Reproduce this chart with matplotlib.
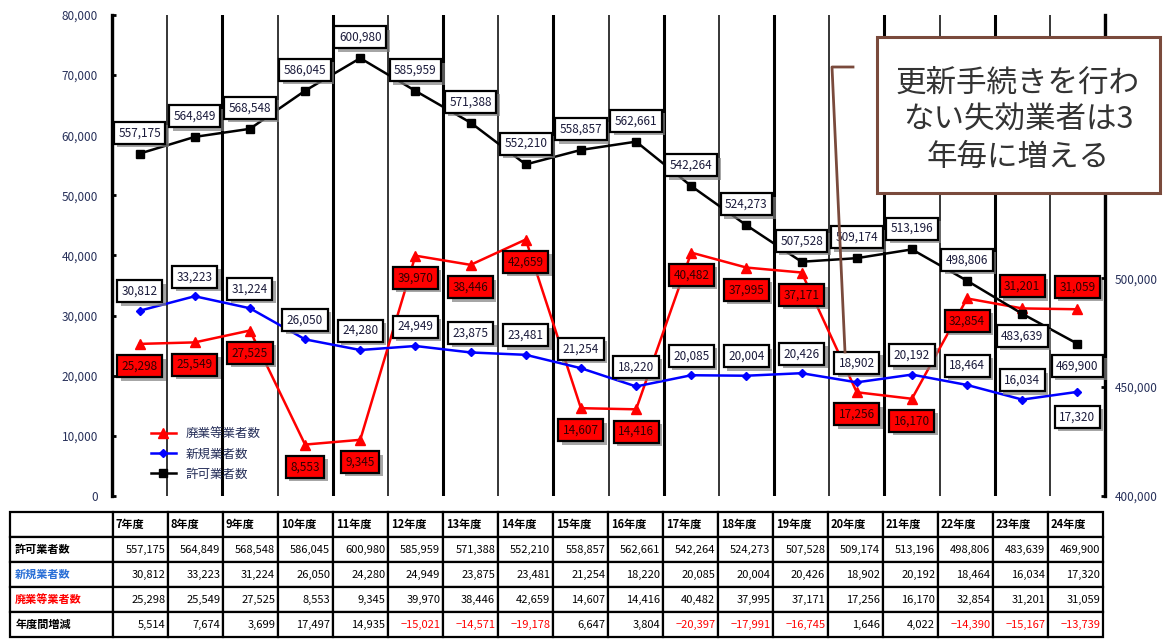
import matplotlib
matplotlib.use('Agg')
import matplotlib.pyplot as plt
import matplotlib.patheffects as pe
import numpy as np
from matplotlib.lines import Line2D
from matplotlib.patches import Rectangle
from matplotlib.ticker import FuncFormatter

plt.rcParams['font.family'] = ['Noto Sans CJK JP', 'DejaVu Sans']

# data (平成7年度〜24年度)
years = ['7年度', '8年度', '9年度', '10年度', '11年度', '12年度', '13年度', '14年度', '15年度',
         '16年度', '17年度', '18年度', '19年度', '20年度', '21年度', '22年度', '23年度', '24年度']
kyoka = [557175, 564849, 568548, 586045, 600980, 585959, 571388, 552210, 558857,
         562661, 542264, 524273, 507528, 509174, 513196, 498806, 483639, 469900]
shinki = [30812, 33223, 31224, 26050, 24280, 24949, 23875, 23481, 21254,
          18220, 20085, 20004, 20426, 18902, 20192, 18464, 16034, 17320]
haigyo = [25298, 25549, 27525, 8553, 9345, 39970, 38446, 42659, 14607,
          14416, 40482, 37995, 37171, 17256, 16170, 32854, 31201, 31059]
zougen = [5514, 7674, 3699, 17497, 14935, -15021, -14571, -19178, 6647,
          3804, -20397, -17991, -16745, 1646, 4022, -14390, -15167, -13739]

W, H = 1168, 642
NAVY = '#27305a'
BROWN = '#7a4a3c'


def fx(px):
    return px / W


def fy(py):
    return 1 - py / H


fig = plt.figure(figsize=(W / 100, H / 100), dpi=100)
ax = fig.add_axes([fx(112), fy(496), fx(1105) - fx(112), fy(15) - fy(496)])
ax2 = ax.twinx()

x = np.arange(len(years))
ax.set_xlim(-0.5, len(years) - 0.5)
ax.set_ylim(0, 80000)
ax2.set_ylim(400000, 620800)
ax.set_xticks([])
ax.set_yticks(np.arange(0, 80001, 10000))
# 550,000 / 600,000 sit under the callout box in the original
ax2.set_yticks([400000, 450000, 500000])
comma = FuncFormatter(lambda v, p: f'{v:,.0f}')
ax.yaxis.set_major_formatter(comma)
ax2.yaxis.set_major_formatter(comma)

for s in ['top', 'bottom', 'right']:
    ax.spines[s].set_visible(False)
for s in ['top', 'bottom', 'left']:
    ax2.spines[s].set_visible(False)
ax.spines['left'].set_linewidth(2.4)
ax2.spines['right'].set_linewidth(2.4)
ax.tick_params(axis='y', direction='in', length=3, width=2, labelsize=8.5,
               labelcolor=NAVY, pad=10)
ax2.tick_params(axis='y', direction='in', length=3, width=2, labelsize=8.5,
                labelcolor=NAVY, pad=7)

# column separators
for i, b in enumerate(np.arange(-0.5, len(years))):
    ax.axvline(b, color='black', lw=2.2 if i % 2 == 0 else 1.1, zorder=1)

l_red, = ax.plot(x, haigyo, color='red', marker='^', ms=6.5, lw=1.8, zorder=3)
l_blue, = ax.plot(x, shinki, color='blue', marker='D', ms=4.5, lw=1.8, zorder=3)
l_black, = ax2.plot(x, kyoka, color='black', marker='s', ms=5.5, lw=1.8, zorder=3)


def add_labels(axis, vals, offs, fc, tc):
    for xi, v, o in zip(x, vals, offs):
        t = axis.annotate(f'{v:,}', (xi, v), xytext=(0, o), textcoords='offset points',
                          ha='center', va='center', fontsize=8.5, color=tc, zorder=6,
                          bbox=dict(boxstyle='square,pad=0.38', fc=fc, ec='black', lw=1.6))
        t.get_bbox_patch().set_path_effects(
            [pe.SimplePatchShadow(offset=(2.5, -2.5), shadow_rgbFace='0.5', alpha=0.7),
             pe.Normal()])


n = len(years)
add_labels(ax2, kyoka, [15 if i < n - 2 else -16 for i in range(n)], 'white', '#1a1a3a')
add_labels(ax, shinki, [14 if i < n - 1 else -18 for i in range(n)], 'white', '#1a1a3a')
add_labels(ax, haigyo, [-16 if i < n - 2 else 16 for i in range(n)], 'red', '#300000')

ax2.legend([l_red, l_blue, l_black], ['廃業等業者数', '新規業者数', '許可業者数'],
           loc='upper left', bbox_to_anchor=(0.03, 0.16), frameon=False, fontsize=9,
           labelcolor=NAVY, handlelength=2.0, labelspacing=0.55, borderpad=0.2)

# table
tax = fig.add_axes([fx(10), fy(637), fx(1103) - fx(10), fy(512) - fy(637)])
tax.axis('off')
rows = [[''] + years,
        ['許可業者数'] + [f'{v:,}' for v in kyoka],
        ['新規業者数'] + [f'{v:,}' for v in shinki],
        ['廃業等業者数'] + [f'{v:,}' for v in haigyo],
        ['年度間増減'] + [f'{v:,}'.replace('-', '−') for v in zougen]]
tbl = tax.table(cellText=rows, colWidths=[103 / 1093] + [55 / 1093] * n,
                bbox=[0, 0, 1, 1], cellLoc='right')
tbl.auto_set_font_size(False)
tbl.set_fontsize(8)
row_colors = {1: 'black', 2: '#2a6fd6', 3: 'red', 4: 'black'}
for (r, c), cell in tbl.get_celld().items():
    cell.set_linewidth(1.6)
    cell.PAD = 0.05
    if r == 0 or c == 0:
        cell.set_text_props(ha='left', weight='bold')
    if c == 0 and r > 0:
        cell.get_text().set_color(row_colors[r])
    if r == 4 and c > 0 and zougen[c - 1] < 0:
        cell.get_text().set_color('red')

# callout
fig.add_artist(Line2D([fx(853), fx(832), fx(845)], [fy(67), fy(67), fy(352)],
                      transform=fig.transFigure, color=BROWN, lw=2, zorder=9))
fig.add_artist(Rectangle((fx(877), fy(193)), fx(1160) - fx(877), fy(37) - fy(193),
                         transform=fig.transFigure, fc='white', ec=BROWN, lw=2.2, zorder=10))
fig.text(fx(1018), fy(120), '更新手続きを行わ\nない失効業者は3\n年毎に増える',
         ha='center', va='center', fontsize=22, color='#333333', linespacing=1.25, zorder=11)

fig.savefig('out.png', dpi=100)
